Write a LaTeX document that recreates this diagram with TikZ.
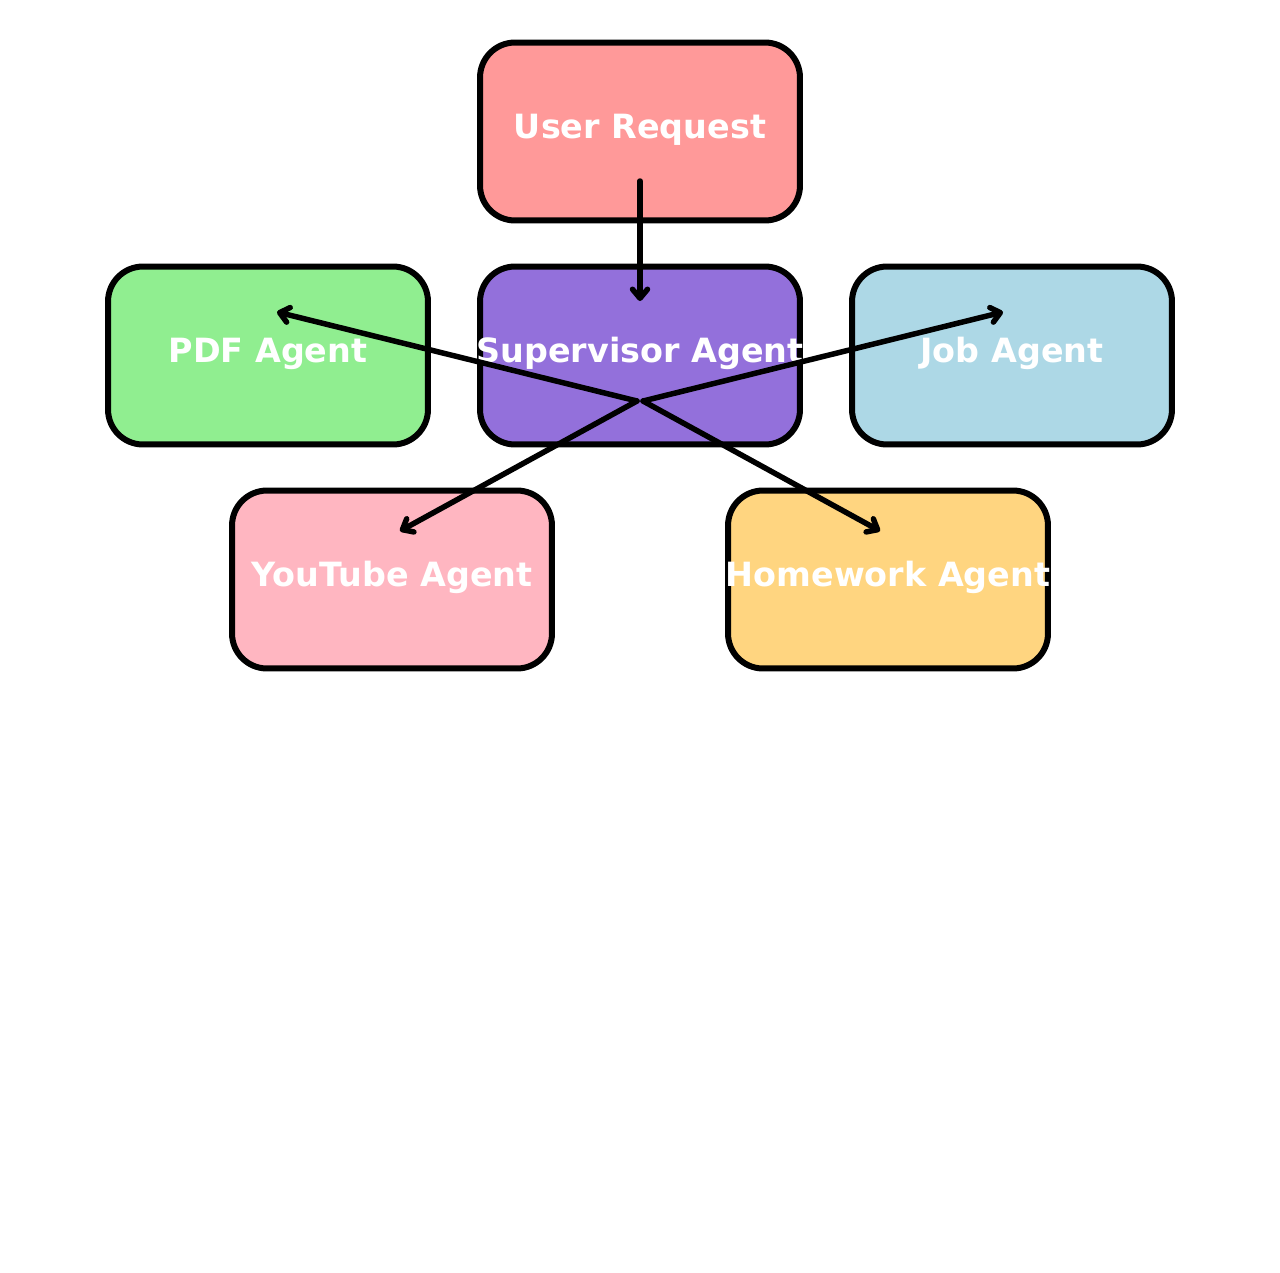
\documentclass[tikz,border=0pt]{standalone}
\usepackage{fontspec}
\setmainfont{DejaVu Sans}
\usetikzlibrary{arrows.meta}
\definecolor{userred}{HTML}{FF9999}
\definecolor{superpurple}{HTML}{9370DB}
\definecolor{pdfgreen}{HTML}{90EE90}
\definecolor{jobblue}{HTML}{ADD8E6}
\definecolor{ytpink}{HTML}{FFB6C1}
\definecolor{hworange}{HTML}{FFD580}
\tikzset{
    agent/.style={draw,line width=0.12cm,rounded corners=0.7cm,minimum width=6.4cm,minimum height=3.56cm,
        inner xsep=-0.5cm,inner ysep=0pt,text height=1em,text depth=0.18em,
        text=white,font=\fontsize{19}{23}\selectfont\bfseries},
    flow/.style={line width=0.11cm,line cap=round,line join=round,-{Straight Barb[length=0.18cm,width=0.3cm,round]}}
}
\begin{document}
\begin{tikzpicture}[x=0.02cm,y=-0.02cm]
        \useasboundingbox (0,0) rectangle (1280,1272);
        \node [agent,fill=userred](user)at(640,131.5){User Request};
        \node [agent,fill=superpurple](super)at(640,355.5){Supervisor Agent};
        \node [agent,fill=pdfgreen](pdf)at(268,355.5){PDF Agent};
        \node [agent,fill=jobblue](job)at(1012,355.5){Job Agent};
        \node [agent,fill=ytpink](yt)at(392,579.5){YouTube Agent};
        \node [agent,fill=hworange](hw)at(888,579.5){Homework Agent};

        % arrow ends
        \coordinate (userout) at (640,181);
        \coordinate (superin) at (640,301);
        \coordinate (hubl) at (637,401);
        \coordinate (hubr) at (643,401);
        \coordinate (pdfin) at (277,312);
        \coordinate (jobin) at (1003,312);
        \coordinate (ytin) at (400,531);
        \coordinate (hwin) at (880,531);

        \draw [flow] (userout) -- (superin);
        \draw [flow] (hubl) -- (pdfin);
        \draw [flow] (hubr) -- (jobin);
        \draw [flow] (hubl) -- (ytin);
        \draw [flow] (hubr) -- (hwin);
    \end{tikzpicture}
\end{document}
